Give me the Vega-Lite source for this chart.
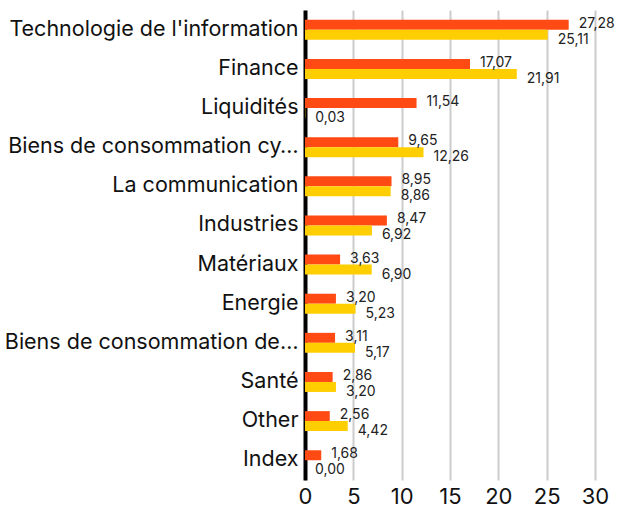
{
  "$schema": "https://vega.github.io/schema/vega-lite/v6.json",
  "width": 290,
  "height": 470,
  "autosize": {"type": "none"},
  "padding": {"left": 305, "top": 10, "right": 23, "bottom": 29},
  "config": {
    "font": "Inter",
    "view": {"stroke": null},
    "locale": {"number": {"decimal": ",", "thousands": " ", "grouping": [3], "currency": ["", " €"]}}
  },
  "data": {
    "values": [
      {"secteur": "Technologie de l'information", "serie": "Fonds", "valeur": 27.28},
      {"secteur": "Technologie de l'information", "serie": "Indice", "valeur": 25.11},
      {"secteur": "Finance", "serie": "Fonds", "valeur": 17.07},
      {"secteur": "Finance", "serie": "Indice", "valeur": 21.91},
      {"secteur": "Liquidités", "serie": "Fonds", "valeur": 11.54},
      {"secteur": "Liquidités", "serie": "Indice", "valeur": 0.03},
      {"secteur": "Biens de consommation cyclique", "serie": "Fonds", "valeur": 9.65},
      {"secteur": "Biens de consommation cyclique", "serie": "Indice", "valeur": 12.26},
      {"secteur": "La communication", "serie": "Fonds", "valeur": 8.95},
      {"secteur": "La communication", "serie": "Indice", "valeur": 8.86},
      {"secteur": "Industries", "serie": "Fonds", "valeur": 8.47},
      {"secteur": "Industries", "serie": "Indice", "valeur": 6.92},
      {"secteur": "Matériaux", "serie": "Fonds", "valeur": 3.63},
      {"secteur": "Matériaux", "serie": "Indice", "valeur": 6.90},
      {"secteur": "Energie", "serie": "Fonds", "valeur": 3.20},
      {"secteur": "Energie", "serie": "Indice", "valeur": 5.23},
      {"secteur": "Biens de consommation de base", "serie": "Fonds", "valeur": 3.11},
      {"secteur": "Biens de consommation de base", "serie": "Indice", "valeur": 5.17},
      {"secteur": "Santé", "serie": "Fonds", "valeur": 2.86},
      {"secteur": "Santé", "serie": "Indice", "valeur": 3.20},
      {"secteur": "Other", "serie": "Fonds", "valeur": 2.56},
      {"secteur": "Other", "serie": "Indice", "valeur": 4.42},
      {"secteur": "Index", "serie": "Fonds", "valeur": 1.68},
      {"secteur": "Index", "serie": "Indice", "valeur": 0.00}
    ]
  },
  "encoding": {
    "y": {
      "field": "secteur", "type": "nominal", "sort": null,
      "scale": {"paddingInner": 0.49, "paddingOuter": 0.25},
      "axis": {
        "title": null, "ticks": false, "domainColor": "#000000", "domainWidth": 4,
        "labelFontSize": 21.5, "labelColor": "#111111", "labelPadding": 7, "labelLimit": 298,
        "labelFont": "Inter"
      }
    },
    "yOffset": {"field": "serie", "type": "nominal", "scale": {"domain": ["Fonds", "Indice"]}},
    "x": {
      "field": "valeur", "type": "quantitative",
      "scale": {"domain": [0, 30], "nice": false},
      "axis": {
        "title": null, "values": [0, 5, 10, 15, 20, 25, 30], "domain": false, "ticks": false,
        "gridColor": "#cccccc", "gridWidth": 2, "labelFontSize": 22, "labelColor": "#111111",
        "labelPadding": 6, "labelFlush": false, "format": "d"
      }
    }
  },
  "layer": [
    {
      "mark": {"type": "bar"},
      "encoding": {
        "color": {"field": "serie", "type": "nominal", "legend": null,
          "scale": {"domain": ["Fonds", "Indice"], "range": ["#ff4a14", "#ffce00"]}}
      }
    },
    {
      "transform": [{"filter": "datum.serie == 'Fonds'"}],
      "mark": {"type": "text", "align": "left", "dx": 10, "dy": -1, "fontSize": 14, "color": "#222222"},
      "encoding": {"text": {"field": "valeur", "type": "quantitative", "format": ".2f"}}
    },
    {
      "transform": [{"filter": "datum.serie == 'Indice'"}],
      "mark": {"type": "text", "align": "left", "dx": 10, "dy": 5, "fontSize": 14, "color": "#222222"},
      "encoding": {"text": {"field": "valeur", "type": "quantitative", "format": ".2f"}}
    }
  ]
}
